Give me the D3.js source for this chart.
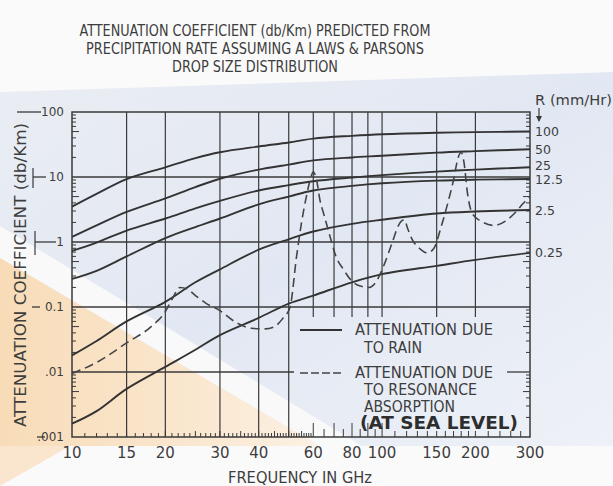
<!DOCTYPE html>
<html>
<head>
<meta charset="utf-8">
<script src="https://cdn.jsdelivr.net/npm/d3@7/dist/d3.min.js"></script>
<style>
  body { margin: 0; background: #fff; }
  svg { display: block; }
  text { fill: #3d3d3d; }
</style>
</head>
<body>
<script>
// rain attenuation (db/Km) at these frequencies (GHz)
let rainFreq = [10, 12, 15, 20, 25, 30, 40, 50, 60, 80, 100, 150, 200, 300];
let rainRates = ["100", "50", "25", "12.5", "2.5", "0.25"];
let rain100 = [3.5, 5.5, 9.3, 14.1, 19.5, 24, 29.5, 34, 39, 43, 45.5, 48, 49, 50];
let rain50 = [1.2, 1.8, 2.9, 4.7, 7, 9.4, 13, 15.5, 18, 20, 21.2, 23.7, 25, 26.7];
let rain25 = [0.73, 0.98, 1.5, 2.3, 3.3, 4.3, 6.2, 7.5, 8.6, 9.8, 10.7, 12.1, 13, 14.1];
let rain12 = [0.27, 0.36, 0.6, 1.15, 1.7, 2.3, 3.8, 5.0, 6.2, 7.3, 8.0, 8.8, 9.1, 9.3];
let rain2 = [0.018, 0.03, 0.06, 0.12, 0.24, 0.38, 0.76, 1.1, 1.45, 1.9, 2.2, 2.75, 2.95, 3.1];
let rain025 = [0.0016, 0.0025, 0.0055, 0.012, 0.022, 0.037, 0.068, 0.113, 0.15, 0.24, 0.32, 0.43, 0.53, 0.68];

// resonance absorption (dashed)
let absFreq = [10, 12, 15, 18, 20, 21, 22.3, 23.5, 25, 27, 30, 34, 38, 42, 45, 48, 50.5, 53, 55, 57, 59, 60,
               61.5, 63, 65, 68, 71, 75, 80, 85, 91, 96, 101, 108, 113, 118, 121, 125, 132, 140, 147, 155,
               163, 170, 176, 180, 184, 188, 195, 210, 230, 250, 270, 285, 300];
let absValues = [0.0095, 0.014, 0.028, 0.05, 0.085, 0.13, 0.2, 0.19, 0.15, 0.115, 0.088, 0.057, 0.047, 0.046, 0.05, 0.068, 0.1, 0.6, 2, 5, 10, 12,
                 9, 4.5, 2.6, 1.2, 0.6, 0.38, 0.25, 0.21, 0.2, 0.25, 0.42, 1.0, 1.8, 2.2, 1.6, 1.1, 0.8, 0.68, 0.8, 1.7,
                 4, 9, 20, 24, 16, 6.3, 2.8, 2.05, 1.8, 2.1, 2.9, 3.9, 5];

let xTickValues = [10, 15, 20, 30, 40, 60, 80, 100, 150, 200, 300];
let xGridValues = [15, 20, 30, 40, 50, 60, 70, 80, 90, 100, 150, 200];
let yTickValues = [100, 10, 1, 0.1, 0.01, 0.001];
let yTickLabels = ["100", "10", "1", "0.1", ".01", ".001"];

let titleLines = ["ATTENUATION COEFFICIENT (db/Km) PREDICTED FROM",
                  "PRECIPITATION RATE ASSUMING A LAWS & PARSONS",
                  "DROP SIZE DISTRIBUTION"];

let w = 613, h = 486;
let pLeft = 72, pRight = 530, pTop = 112, pBottom = 437;
let ink = '#3a3a3a';
let narrow = '"Liberation Sans Narrow", "DejaVu Sans Condensed", sans-serif';

let svg = d3.select('body').append('svg')
    .attr('width', w)
    .attr('height', h);

// faded watermark behind the chart
let defs = svg.append('defs');
let peach = defs.append('linearGradient').attr('id', 'peach')
    .attr('x1', 0).attr('y1', 0).attr('x2', 1).attr('y2', 0);
peach.append('stop').attr('offset', '0%').attr('stop-color', '#f8dcb8');
peach.append('stop').attr('offset', '60%').attr('stop-color', '#fae7cf');
peach.append('stop').attr('offset', '100%').attr('stop-color', '#fcf1e4');
let blue = defs.append('linearGradient').attr('id', 'blue')
    .attr('x1', 0).attr('y1', 0).attr('x2', 1).attr('y2', 1);
blue.append('stop').attr('offset', '0%').attr('stop-color', '#eaedf3');
blue.append('stop').attr('offset', '50%').attr('stop-color', '#e2e8f3');
blue.append('stop').attr('offset', '100%').attr('stop-color', '#eef1f7');

svg.append('rect').attr('width', w).attr('height', h).attr('fill', '#fafafb');
svg.append('path').attr('d', 'M0,92 L613,72 L613,446 L0,446 Z').attr('fill', 'url(#blue)');
svg.append('path').attr('d', 'M0,226 L0,258 L320,446 L362,446 Z').attr('fill', '#fbfbfb').attr('opacity', 0.9);
svg.append('path').attr('d', 'M0,258 L320,446 L0,446 Z').attr('fill', 'url(#peach)');
svg.append('path').attr('d', 'M0,446 L70,446 L0,486 Z').attr('fill', '#fae6cf');

let x = d3.scaleLog().domain([10, 300]).range([pLeft, pRight]);
let y = d3.scaleLog().domain([0.001, 100]).range([pBottom, pTop]);

// title
svg.selectAll('.title').data(titleLines).enter().append('text')
    .attr('class', 'title')
    .attr('x', 255)
    .attr('y', (d, i) => 36 + i * 18)
    .attr('text-anchor', 'middle')
    .attr('font-family', narrow)
    .attr('font-size', 16)
    .attr('textLength', (d, i) => [351, 338, 166][i])
    .attr('lengthAdjust', 'spacingAndGlyphs')
    .text(d => d);

// vertical grid, the high frequencies stop above the legend
svg.append('g').selectAll('line').data(xGridValues).enter().append('line')
    .attr('x1', d => x(d)).attr('x2', d => x(d))
    .attr('y1', pTop)
    .attr('y2', d => d >= 60 ? 317 : pBottom)
    .attr('stroke', ink).attr('stroke-width', 1.2);

// horizontal grid
svg.append('g').selectAll('line').data([10, 1, 0.1]).enter().append('line')
    .attr('x1', pLeft).attr('x2', pRight)
    .attr('y1', d => y(d)).attr('y2', d => y(d))
    .attr('stroke', ink).attr('stroke-width', 1.3);
svg.append('line').attr('x1', pLeft).attr('x2', 294)
    .attr('y1', y(0.01)).attr('y2', y(0.01))
    .attr('stroke', ink).attr('stroke-width', 1.3);
svg.append('line').attr('x1', 507).attr('x2', pRight)
    .attr('y1', y(0.01)).attr('y2', y(0.01))
    .attr('stroke', ink).attr('stroke-width', 1.3);

// frame
svg.append('rect')
    .attr('x', pLeft).attr('y', pTop)
    .attr('width', pRight - pLeft).attr('height', pBottom - pTop)
    .attr('fill', 'none').attr('stroke', ink).attr('stroke-width', 1.5);

// minor ticks on the left and right edges
let minorY = [];
[0.001, 0.01, 0.1, 1, 10].forEach(dec => {
    for (let k = 2; k <= 9; k++) minorY.push(dec * k);
});
svg.append('g').selectAll('line').data(minorY).enter().append('line')
    .attr('x1', pLeft).attr('x2', d => pLeft + (String(d).indexOf('5') >= 0 ? 7 : 4))
    .attr('y1', d => y(d)).attr('y2', d => y(d))
    .attr('stroke', ink).attr('stroke-width', 1);
svg.append('g').selectAll('line').data(minorY).enter().append('line')
    .attr('x1', pRight).attr('x2', d => pRight - (String(d).indexOf('5') >= 0 ? 7 : 4))
    .attr('y1', d => y(d)).attr('y2', d => y(d))
    .attr('stroke', ink).attr('stroke-width', 1);

// ruler ticks along the bottom
let minorX = [];
for (let f = 11; f < 60; f++) minorX.push(f);
for (let f = 60; f < 100; f += 5) minorX.push(f);
for (let f = 100; f < 200; f += 10) minorX.push(f);
for (let f = 200; f < 300; f += 20) minorX.push(f);
svg.append('g').selectAll('line').data(minorX).enter().append('line')
    .attr('x1', d => x(d)).attr('x2', d => x(d))
    .attr('y1', pBottom)
    .attr('y2', d => pBottom - (d >= 60 && d <= 100 && d % 10 == 0 ? 14 : (d >= 60 && d < 100 ? 8 : (d % 5 == 0 ? 6 : 4))))
    .attr('stroke', ink).attr('stroke-width', 1);

// rain curves
let rainSeries = [rain100, rain50, rain25, rain12, rain2, rain025];
let line = d3.line()
    .x(d => x(d[0]))
    .y(d => y(d[1]))
    .curve(d3.curveCatmullRom.alpha(0.5));

svg.append('g').selectAll('path').data(rainSeries).enter().append('path')
    .attr('d', s => line(s.map((v, i) => [rainFreq[i], v])))
    .attr('fill', 'none')
    .attr('stroke', '#333')
    .attr('stroke-width', 1.9);

// resonance absorption
let absLine = d3.line()
    .x(d => x(d[0]))
    .y(d => y(d[1]))
    .curve(d3.curveMonotoneX);
svg.append('path')
    .attr('d', absLine(absFreq.map((f, i) => [f, absValues[i]])))
    .attr('fill', 'none')
    .attr('stroke', '#444')
    .attr('stroke-width', 1.6)
    .attr('stroke-dasharray', '9,5');

// x labels
svg.append('g').selectAll('text').data(xTickValues).enter().append('text')
    .attr('x', d => x(d))
    .attr('y', 458)
    .attr('text-anchor', 'middle')
    .attr('font-family', '"DejaVu Sans", sans-serif')
    .attr('font-size', 15)
    .text(d => d);

svg.append('text')
    .attr('x', 300).attr('y', 483)
    .attr('text-anchor', 'middle')
    .attr('font-family', narrow)
    .attr('font-size', 15)
    .attr('textLength', 144)
    .attr('lengthAdjust', 'spacingAndGlyphs')
    .text('FREQUENCY IN GHz');

// y labels with the little lead-in dashes
let dashFrom = [17, 33, 35, 32, null, 37];
let dashTo = [41, 46, 56, 40, null, 45];
svg.append('g').selectAll('text').data(yTickValues).enter().append('text')
    .attr('x', 64)
    .attr('y', d => y(d))
    .attr('dy', '0.36em')
    .attr('text-anchor', 'end')
    .attr('font-family', '"DejaVu Sans", sans-serif')
    .attr('font-size', 12)
    .text((d, i) => yTickLabels[i]);
svg.append('g').selectAll('line').data(yTickValues.filter((d, i) => dashFrom[i] != null)).enter().append('line')
    .attr('x1', d => dashFrom[yTickValues.indexOf(d)])
    .attr('x2', d => dashTo[yTickValues.indexOf(d)])
    .attr('y1', d => y(d)).attr('y2', d => y(d))
    .attr('stroke', ink).attr('stroke-width', 1.3);
svg.append('line').attr('x1', 33).attr('x2', 33).attr('y1', y(10) - 9).attr('y2', y(10) + 11)
    .attr('stroke', ink).attr('stroke-width', 1.2);
svg.append('line').attr('x1', 35).attr('x2', 35).attr('y1', y(1) - 11).attr('y2', y(1) + 13)
    .attr('stroke', ink).attr('stroke-width', 1.2);

svg.append('text')
    .attr('transform', 'translate(26,275) rotate(-90)')
    .attr('text-anchor', 'middle')
    .attr('font-family', narrow)
    .attr('font-size', 15)
    .attr('textLength', 304)
    .attr('lengthAdjust', 'spacingAndGlyphs')
    .text('ATTENUATION COEFFICIENT (db/Km)');

// rain rate labels on the right
let nudge = [0, 0, -1.5, 0, 0, 0];
svg.append('g').selectAll('text').data(rainSeries).enter().append('text')
    .attr('x', 535)
    .attr('y', (s, i) => y(s[s.length - 1]) + nudge[i])
    .attr('dy', '0.36em')
    .attr('font-family', '"DejaVu Sans", sans-serif')
    .attr('font-size', 12.5)
    .text((s, i) => rainRates[i]);

svg.append('text')
    .attr('x', 535).attr('y', 105)
    .attr('font-family', '"DejaVu Sans", sans-serif')
    .attr('font-size', 14)
    .attr('textLength', 77)
    .attr('lengthAdjust', 'spacingAndGlyphs')
    .text('R (mm/Hr)');
svg.append('line').attr('x1', 539).attr('x2', 539).attr('y1', 108).attr('y2', 121)
    .attr('stroke', ink).attr('stroke-width', 1.2);
svg.append('path').attr('d', 'M536,116 L539,122 L542,116 Z').attr('fill', ink);

// legend
svg.append('line').attr('x1', 300).attr('x2', 342).attr('y1', 330).attr('y2', 330)
    .attr('stroke', '#333').attr('stroke-width', 1.9);
svg.append('line').attr('x1', 300).attr('x2', 342).attr('y1', 373).attr('y2', 373)
    .attr('stroke', '#444').attr('stroke-width', 1.6).attr('stroke-dasharray', '8,3');

let legendText = [
    ['ATTENUATION DUE', 355, 335, 138],
    ['TO RAIN', 364, 353, 58],
    ['ATTENUATION DUE', 355, 378, 138],
    ['TO RESONANCE', 364, 395, 113],
    ['ABSORPTION', 364, 412, 91]
];
svg.append('g').selectAll('text').data(legendText).enter().append('text')
    .attr('x', d => d[1]).attr('y', d => d[2])
    .attr('font-family', narrow)
    .attr('font-size', 15)
    .attr('textLength', d => d[3])
    .attr('lengthAdjust', 'spacingAndGlyphs')
    .text(d => d[0]);

svg.append('text')
    .attr('x', 360).attr('y', 429)
    .attr('font-family', '"DejaVu Sans", sans-serif')
    .attr('font-size', 18)
    .attr('font-weight', 'bold')
    .attr('textLength', 158)
    .attr('lengthAdjust', 'spacingAndGlyphs')
    .style('fill', '#2e2e2e')
    .text('(AT SEA LEVEL)');
</script>
</body>
</html>
